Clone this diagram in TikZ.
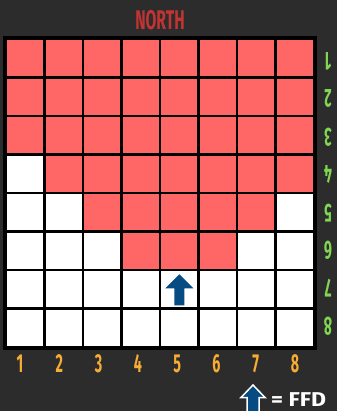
\documentclass[tikz,border=0pt]{standalone}
\usepackage{fontspec}
\setmainfont{Fira Sans}
\definecolor{backdrop}{RGB}{44,44,44}
\definecolor{cellred}{RGB}{255,102,102}
\definecolor{northred}{RGB}{192,52,52}
\definecolor{colorange}{RGB}{247,172,52}
\definecolor{rowgreen}{RGB}{128,214,82}
\definecolor{ffdblue}{RGB}{6,76,130}

\begin{document}
\begin{tikzpicture}[x=1pt, y=-1pt,
    cell/.style={draw=black, line width=2.5pt, fill=white, minimum size=38.5pt, inner sep=0pt},
    hot/.style={cell, fill=cellred},
    digit/.style={font=\fontsize{26}{26}\selectfont\bfseries, xscale=0.55, inner sep=0pt},
    collabel/.style={digit, text=colorange},
    rowlabel/.style={digit, text=rowgreen, rotate=180}]
    % Background
    \fill[backdrop] (0,0) rectangle (337,411);
    \useasboundingbox (0,0) rectangle (337,411);

    % Title
    \node[font=\fontsize{27}{27}\selectfont\bfseries, xscale=0.58, text=northred, inner sep=0pt] (north) at (160,20.5) {NORTH};

    % Grid: row / first red column / last red column
    \foreach \r/\a/\b in {1/1/8, 2/1/8, 3/1/8, 4/2/8, 5/3/7, 6/4/6, 7/9/0, 8/9/0} {
        \foreach \c in {1,...,8} {
            \pgfmathtruncatemacro\isred{and(\c>=\a, \c<=\b)}
            \ifnum\isred=1 \def\look{hot}\else\def\look{cell}\fi
            \node[\look] (c\c-\r) at ({6+38.5*(\c-0.5)}, {39+38.5*(\r-0.5)}) {};
        }
    }
    \draw[line width=3pt] (c1-1.north west) rectangle (c8-8.south east);

    % Column numbers
    \foreach \c in {1,...,8}
        \node[collabel] (col\c) at ({20+39.3*(\c-1)}, 363.5) {\c};

    % Row numbers
    \foreach \r in {1,...,8}
        \node[rowlabel] (row\r) at (328, {61+37.9*(\r-1)}) {\r};

    % FFD arrow on the grid
    \fill[ffdblue] ([yshift=15pt]c5-7.center) -- ++(14,14) -- ++(-9,0) -- ++(0,17)
        -- ++(-10,0) -- ++(0,-17) -- ++(-9,0) -- cycle;

    % Key
    \coordinate (keytip) at (253,385);
    \draw[white, line width=1.5pt, fill=ffdblue] (keytip) -- ++(12,12.5) -- ++(-6,0) -- ++(0,20)
        -- ++(-12,0) -- ++(0,-20) -- ++(-6,0) -- cycle;
    \node[font=\fontsize{20}{20}\selectfont\bfseries, text=white, anchor=west, xscale=1.15, inner sep=0pt] (ffd) at (271,399.5) {= FFD};
\end{tikzpicture}
\end{document}
